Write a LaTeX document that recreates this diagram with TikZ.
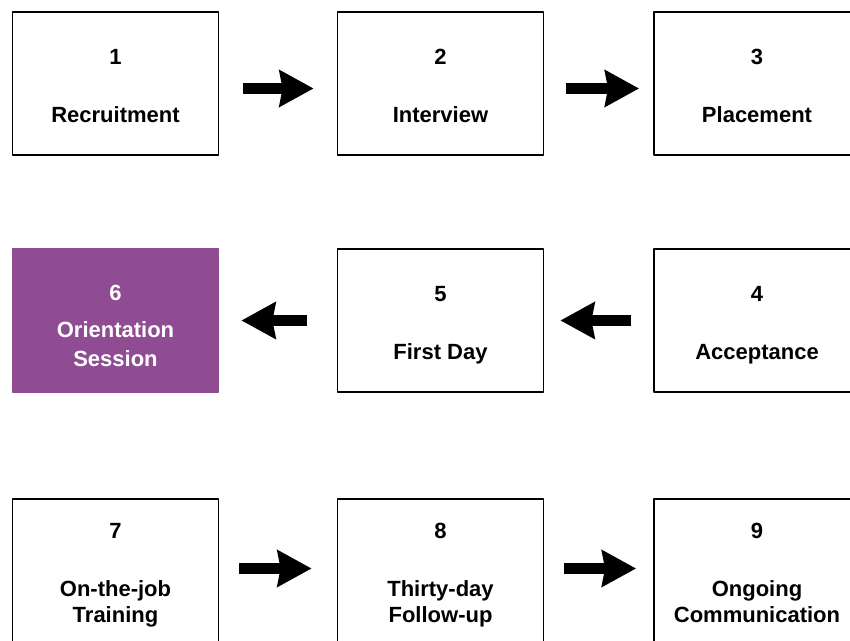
\documentclass[tikz,border=0pt]{standalone}
\usepackage{fontspec}
\setmainfont{Liberation Sans}
\usetikzlibrary{arrows.meta,positioning}
\definecolor{orchid}{RGB}{143,76,146}
% number over title, with fixed top and bottom struts
\newcommand{\stg}[3][16pt]{\rule{0pt}{13pt}#2\\[#1]#3\rule[-2.5pt]{0pt}{2.5pt}}

\begin{document}
\begin{tikzpicture}[x=0.5pt, y=0.5pt, line join=round,
  stage/.style={draw=black, line width=0.9pt, minimum width=103pt,
    minimum height=71.5pt, inner sep=0pt, align=center,
    font=\fontsize{11}{13}\selectfont\bfseries},
  flow/.style={line width=5.5pt, -{Stealth[length=17pt,width=18pt,inset=1.5pt]}}]
\clip (0,0) rectangle (850,641);
% column and row centres
\def\ca{115.5}
\def\cb{440.5}
\def\cc{757}
\def\ra{557.5}
\def\rb{320.5}
\def\rc{70.5}
% first row: left to right
\node[stage] (s1) at (\ca,\ra) {\stg{1}{Recruitment}};
\node[stage] (s2) at (\cb,\ra) {\stg{2}{Interview}};
\node[stage] (s3) at (\cc,\ra) {\stg{3}{Placement}};
% second row: right to left
\node[stage] (s4) at (\cc,\rb) {\stg{4}{Acceptance}};
\node[stage] (s5) at (\cb,\rb) {\stg{5}{First Day}};
\node[stage, fill=orchid, draw=orchid, text=white] (s6) at (\ca,\rb)
  {\rule{0pt}{16pt}6\\[5.5pt]Orientation\\[1.5pt]Session\rule[-2.5pt]{0pt}{2.5pt}};
% third row: left to right
\node[stage] (s7) at (\ca,\rc) {\stg{7}{On-the-job\\Training}};
\node[stage] (s8) at (\cb,\rc) {\stg{8}{Thirty-day\\Follow-up}};
\node[stage] (s9) at (\cc,\rc) {\stg{9}{Ongoing\\Communication}};
% block arrows between the stages
\draw[flow, shorten <=12pt, shorten >=11.5pt]
  ([yshift=-2.5pt]s1.east) -- ([yshift=-2.5pt]s2.west);
\draw[flow, shorten <=11pt, shorten >=7pt]
  ([yshift=-2.5pt]s2.east) -- ([yshift=-2.5pt]s3.west);
\draw[flow, shorten <=11pt, shorten >=8pt] (s4.west) -- (s5.east);
\draw[flow, shorten <=15pt, shorten >=11pt] (s5.west) -- (s6.east);
\draw[flow, shorten <=10pt, shorten >=12.5pt]
  ([yshift=1pt]s7.east) -- ([yshift=1pt]s8.west);
\draw[flow, shorten <=10pt, shorten >=8.5pt]
  ([yshift=1pt]s8.east) -- ([yshift=1pt]s9.west);
\end{tikzpicture}
\end{document}
